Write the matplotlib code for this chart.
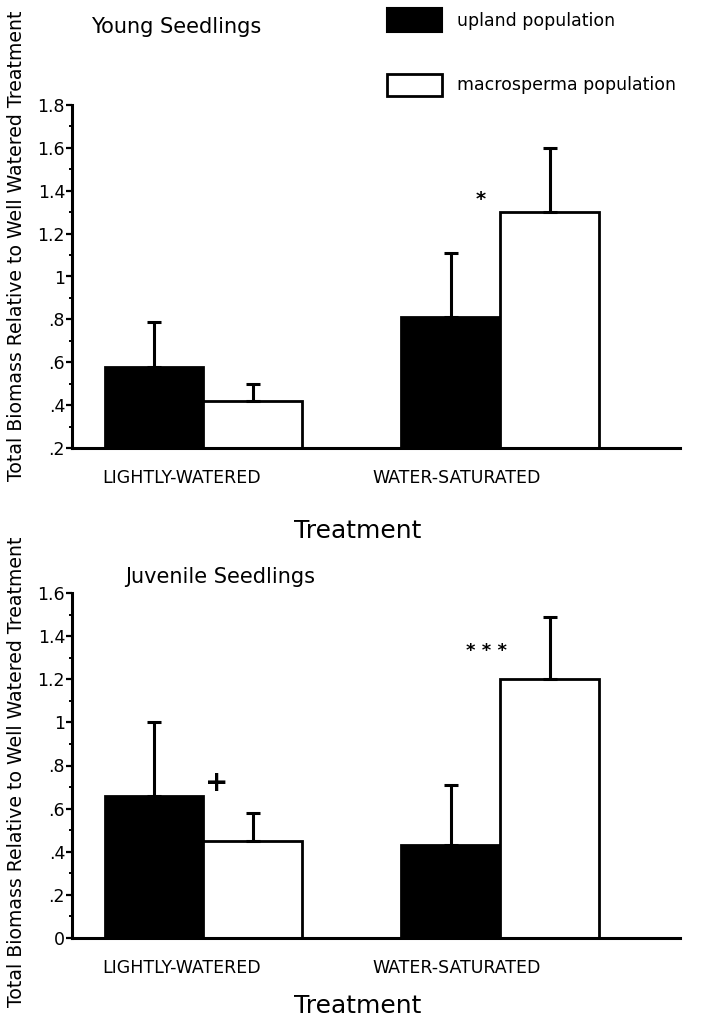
import matplotlib
matplotlib.use("Agg")
import matplotlib.pyplot as plt
from matplotlib.ticker import FuncFormatter, MultipleLocator
from matplotlib.patches import Rectangle

plt.rcParams['font.family'] = ['DejaVu Sans']

categories = ["LIGHTLY-WATERED", "WATER-SATURATED"]
series_names = ["upland population", "macrosperma population"]

young_upland = [0.58, 0.81]
young_upland_err = [0.21, 0.30]
young_macro = [0.42, 1.30]
young_macro_err = [0.08, 0.30]

juv_upland = [0.66, 0.43]
juv_upland_err = [0.34, 0.28]
juv_macro = [0.45, 1.20]
juv_macro_err = [0.13, 0.29]

W, H = 708, 1025
fig = plt.figure(figsize=(W / 100, H / 100), dpi=100)

def fx(px):
    return px / W

def fy(py):
    return 1 - py / H

def fmt(v, pos):
    if abs(v) < 1e-9:
        return "0"
    s = f"{v:.1f}"
    if s.endswith(".0"):
        s = s[:-2]
    if s.startswith("0."):
        s = s[1:]
    return s

group_x = [1.0, 4.0]
bw = 1.0

def panel(rect, up, uperr, mac, macerr, ymin, ymax, title, title_xy, annots):
    ax = fig.add_axes(rect)
    xu = [g - bw / 2 for g in group_x]
    xm = [g + bw / 2 for g in group_x]
    ekw = dict(ecolor="black", elinewidth=2.2, capsize=5, capthick=2.2)
    ax.bar(xu, [v - ymin for v in up], bottom=ymin, width=bw, color="black",
           edgecolor="black", linewidth=2, yerr=[[0] * len(up), uperr], error_kw=ekw, zorder=2)
    ax.bar(xm, [v - ymin for v in mac], bottom=ymin, width=bw, color="white",
           edgecolor="black", linewidth=2, yerr=[[0] * len(mac), macerr], error_kw=ekw, zorder=2)
    ax.set_xlim(-0.33, 5.82)
    ax.set_ylim(ymin, ymax)
    ax.spines['top'].set_visible(False)
    ax.spines['right'].set_visible(False)
    ax.spines['left'].set_linewidth(2.2)
    ax.spines['bottom'].set_linewidth(2.2)
    ax.set_xticks([])
    ax.yaxis.set_major_locator(MultipleLocator(0.2))
    ax.yaxis.set_minor_locator(MultipleLocator(0.1))
    ax.yaxis.set_major_formatter(FuncFormatter(fmt))
    ax.tick_params(axis='y', which='major', length=4, width=1.6, labelsize=12.5, pad=1)
    ax.tick_params(axis='y', which='minor', length=2.5, width=1.4)
    fig.text(title_xy[0], title_xy[1], title, fontsize=15, ha='left', va='center')
    for (x, y, s, size) in annots:
        ax.text(x, y, s, ha='center', va='center', fontsize=size, fontweight='bold')
    return ax

ax1 = panel([fx(72), fy(448), fx(680) - fx(72), fy(105) - fy(448)],
            young_upland, young_upland_err, young_macro, young_macro_err,
            0.2, 1.8, "Young Seedlings", (fx(91), fy(27)),
            [(3.8, 1.36, "*", 14)])
ax2 = panel([fx(72), fy(938), fx(680) - fx(72), fy(593) - fy(938)],
            juv_upland, juv_upland_err, juv_macro, juv_macro_err,
            0.0, 1.6, "Juvenile Seedlings", (fx(125), fy(577)),
            [(1.13, 0.72, "+", 20), (3.86, 1.33, "* * *", 13)])

# category labels
for cy in (478, 968):
    fig.text(fx(182), fy(cy), categories[0], fontsize=12.5, ha='center', va='center')
    fig.text(fx(457), fy(cy), categories[1], fontsize=12.5, ha='center', va='center')
fig.text(fx(358), fy(531), "Treatment", fontsize=18, ha='center', va='center')
fig.text(fx(358), fy(1006), "Treatment", fontsize=18, ha='center', va='center')

ylab = "Total Biomass Relative to Well Watered Treatment"
fig.text(fx(17), fy(246), ylab, rotation=90, fontsize=13.6, ha='center', va='center')
fig.text(fx(17), fy(772), ylab, rotation=90, fontsize=13.6, ha='center', va='center')

# legend
fig.patches.append(Rectangle((fx(387), fy(32)), fx(442) - fx(387), fy(8) - fy(32),
                             transform=fig.transFigure, facecolor='black', edgecolor='black', lw=1.5))
fig.patches.append(Rectangle((fx(387), fy(96)), fx(442) - fx(387), fy(74) - fy(96),
                             transform=fig.transFigure, facecolor='white', edgecolor='black', lw=2))
fig.text(fx(457), fy(21), series_names[0], fontsize=12.5, ha='left', va='center')
fig.text(fx(457), fy(85), series_names[1], fontsize=12.5, ha='left', va='center')

fig.savefig("out.png", dpi=100, facecolor='white')
